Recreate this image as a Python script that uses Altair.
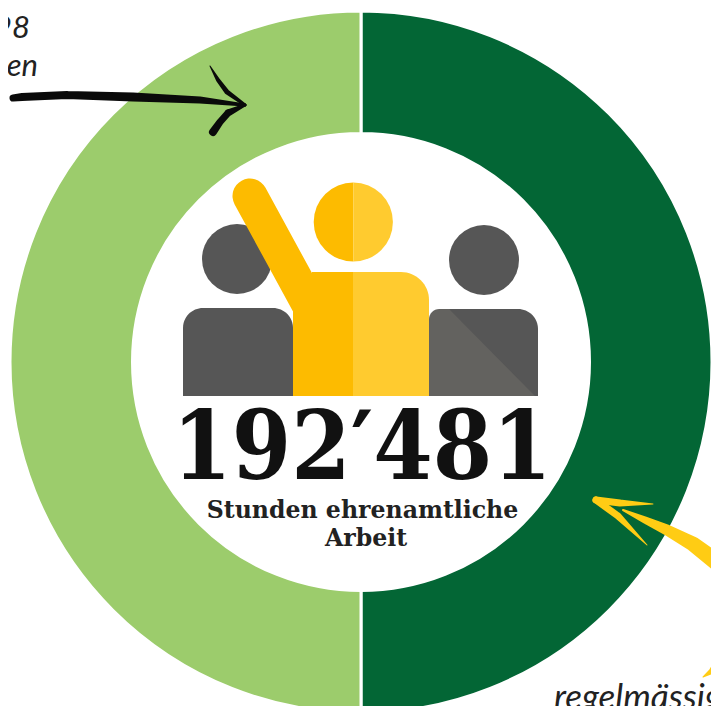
import math
import altair as alt
import pandas as pd

W, H = 703, 698
SX = alt.Scale(domain=[8, 711], range=[0, 703], nice=False, zero=False)
SY = alt.Scale(domain=[8, 706], range=[0, 698], nice=False, zero=False)

# ring
ring_labels = ["regelmässig", "unregelmässig"]
ring_values = [50, 50]
ring_colors = ["#036635", "#9CCC6C"]
ring_order = [1, 2]

# text
total_label = "192′481"
sub_lines = ["Stunden ehrenamtliche", "Arbeit"]
note_left = ["98", "Stunden"]
note_right = "regelmässig"

# icon pieces (reference pixel frame)
GREY, GREY_L = "#565656", "#63625F"
YEL_D, YEL_L = "#FDBB00", "#FFCB2F"
ARROW_Y = "#FFCC14"
arm_x, arm_y = [250, 310], [196, 306]
tri_x = [449, 535]
tri_y = [309, 396]

black_shaft = [(13, 98, 7), (22, 97, 8), (67, 95, 8), (133, 97, 9), (200, 100, 7), (245, 105, 3)]
black_up = [(210, 66, 1), (218, 80, 4), (227, 92, 5), (245, 105, 3)]
black_low = [(245, 105, 3), (228, 113, 7), (220, 122, 7), (213, 132, 8)]
yel_shaft = [(623, 510, 2), (645, 520, 7), (667, 530, 11), (693, 544, 15), (722, 566, 18)]
yel_up = [(596, 500, 7), (620, 503, 7), (653, 504, 1)]
yel_low = [(596, 500, 7), (618, 516, 7), (647, 545, 1)]
yel_tail = [(703, 677, 1), (712, 671, 6), (722, 656, 9)]

base = alt.Chart(pd.DataFrame({"i": [0]}))
X = lambda f: alt.X(f, scale=SX, axis=None)
Y = lambda f: alt.Y(f, scale=SY, axis=None)


def circle(cx, cy, r, color):
    return alt.Chart(pd.DataFrame({"x": [cx], "y": [cy]})).mark_circle(
        size=4 * r * r, color=color, opacity=1
    ).encode(x=X("x:Q"), y=Y("y:Q"))


def rect(x0, x1, y0, y1, color, **kw):
    return alt.Chart(pd.DataFrame({"x": [x0], "x2": [x1], "y": [y0], "y2": [y1]})).mark_rect(
        color=color, **kw
    ).encode(x=X("x:Q"), x2="x2:Q", y=Y("y:Q"), y2="y2:Q")


def half(theta0, theta1, color):
    return base.mark_arc(theta=theta0, theta2=theta1, radius=39.6, color=color).encode(
        x=alt.value(353.3 - 8), y=alt.value(222 - 8)
    )


def trail(points, color):
    df = pd.DataFrame(points, columns=["x", "y", "s"]).reset_index()
    return alt.Chart(df).mark_trail(color=color).encode(
        x=X("x:Q"), y=Y("y:Q"), size=alt.Size("s:Q", scale=None, legend=None), order="index:Q"
    )


def text(x, y, label, **kw):
    return alt.Chart(pd.DataFrame({"x": [x], "y": [y], "t": [label]})).mark_text(**kw).encode(
        x=X("x:Q"), y=Y("y:Q"), text="t:N"
    )


ring_df = pd.DataFrame({"label": ring_labels, "value": ring_values, "color": ring_colors, "order": ring_order})
ring = alt.Chart(ring_df).mark_arc(
    innerRadius=228.5, outerRadius=351, stroke="white", strokeWidth=3
).encode(
    theta=alt.Theta("value:Q", stack=True),
    color=alt.Color("color:N", scale=None, legend=None),
    order=alt.Order("order:Q"),
    x=alt.value(361 - 8),
    y=alt.value(362 - 8),
)

arm = alt.Chart(pd.DataFrame({"x": arm_x, "y": arm_y})).mark_line(
    color=YEL_D, strokeWidth=35, strokeCap="round"
).encode(x=X("x:Q"), y=Y("y:Q"))

tri = alt.Chart(pd.DataFrame({"x": tri_x, "y": tri_y, "y2": [396, 396]})).mark_area(color=GREY_L).encode(
    x=X("x:Q"), y=Y("y:Q"), y2="y2:Q"
)

layers = [
    ring,
    circle(237, 259, 35, GREY),
    circle(484, 260, 35, GREY),
    rect(183, 293, 308, 396, GREY, cornerRadiusTopLeft=20, cornerRadiusTopRight=20),
    rect(429, 538, 309, 396, GREY, cornerRadiusTopLeft=20, cornerRadiusTopRight=20),
    rect(429, 449.5, 309, 396, GREY_L, cornerRadiusTopLeft=20),
    tri,
    arm,
    rect(312, 353.5, 272, 396, YEL_D),
    rect(293, 353.5, 308, 396, YEL_D),
    rect(353, 429, 272, 396, YEL_L, cornerRadiusTopRight=28),
    half(math.pi, 2 * math.pi, YEL_D),
    half(0, math.pi, YEL_L),
    text(362, 479, total_label, font="DejaVu Serif Condensed", fontWeight="bold", fontSize=95,
         align="center", baseline="alphabetic", color="#111111"),
    text(362.5, 518, sub_lines[0], font="DejaVu Serif", fontWeight="bold", fontSize=23.6,
         align="center", baseline="alphabetic", color="#222222"),
    text(366, 546, sub_lines[1], font="DejaVu Serif", fontWeight="bold", fontSize=23.6,
         align="center", baseline="alphabetic", color="#222222"),
    text(30, 38, note_left[0], font="Lato", fontStyle="italic", fontSize=31,
         align="right", baseline="alphabetic", color="#222222"),
    text(38, 76, note_left[1], font="Lato", fontStyle="italic", fontSize=31,
         align="right", baseline="alphabetic", color="#222222"),
    text(554, 709, note_right, font="Lato", fontStyle="italic", fontSize=35,
         align="left", baseline="alphabetic", color="#222222"),
    trail(black_shaft, "#0A0A0A"),
    trail(black_up, "#0A0A0A"),
    trail(black_low, "#0A0A0A"),
    trail(yel_shaft, ARROW_Y),
    trail(yel_up, ARROW_Y),
    trail(yel_low, ARROW_Y),
    trail(yel_tail, ARROW_Y),
]

chart = alt.layer(*layers).properties(
    width=W, height=H, padding=0, autosize=alt.AutoSizeParams(type="none")
).configure_view(stroke=None, clip=False)

chart.save("out.html", embed_options={"renderer": "svg", "actions": False})
